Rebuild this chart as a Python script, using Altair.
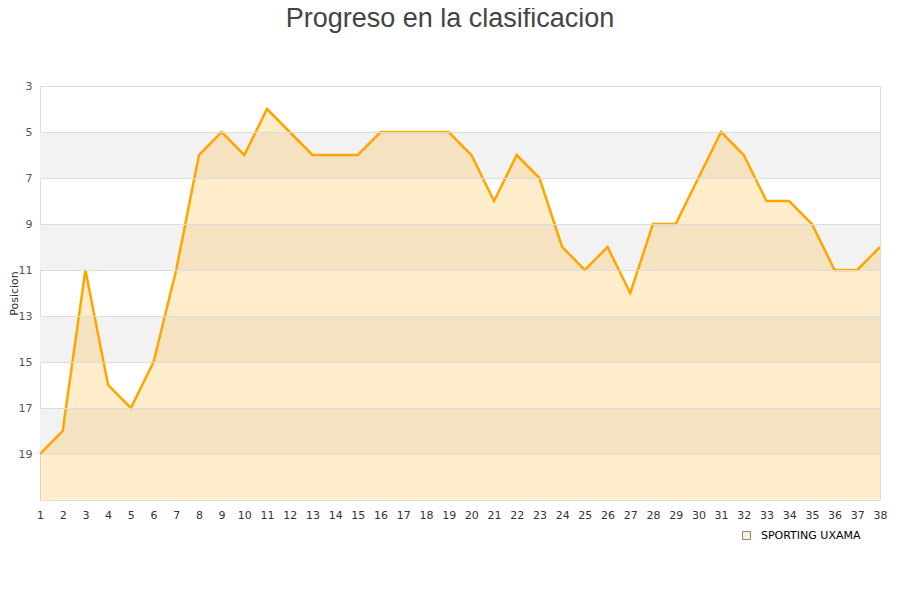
import altair as alt
import pandas as pd

jornadas = list(range(1, 39))
posiciones = [19, 18, 11, 16, 17, 15, 11, 6, 5, 6, 4, 5, 6, 6, 6, 5, 5, 5, 5, 6,
              8, 6, 7, 10, 11, 10, 12, 9, 9, 7, 5, 6, 8, 8, 9, 11, 11, 10]
team = "SPORTING UXAMA"
band_start = [5, 9, 13, 17]
band_end = [7, 11, 15, 19]
y_ticks = [3, 5, 7, 9, 11, 13, 15, 17, 19]

df = pd.DataFrame({"jornada": jornadas, "pos": posiciones, "equipo": team})
df["base"] = 21
bands = pd.DataFrame({"y1": band_start, "y2": band_end})

yscale = alt.Scale(domain=[3, 21], reverse=True, nice=False, zero=False)
xscale = alt.Scale(domain=[1, 38], nice=False, zero=False)

x_axis = alt.Axis(values=jornadas, title=None, grid=False, domain=False, ticks=False,
                  labelColor="#333333", labelFontSize=11, labelPadding=9,
                  labelFont="DejaVu Sans", labelFlush=False, labelOverlap=False,
                  labelBound=False)
y_axis = alt.Axis(values=y_ticks, title="Posicion", grid=True, gridColor="#dddddd",
                  domain=False, ticks=False, labelColor="#555555", labelFontSize=11,
                  labelPadding=8, titleFontSize=11, titleColor="#333333",
                  titleFontWeight="normal", titleX=-26, titleY=207,
                  titleBaseline="middle", titleAlign="center", titleAngle=270,
                  zindex=1, labelFont="DejaVu Sans", titleFont="DejaVu Sans")

band_layer = alt.Chart(bands).mark_rect(color="#f2f2f2").encode(
    y=alt.Y("y1:Q", scale=yscale, axis=y_axis),
    y2="y2:Q",
    x=alt.value(0),
    x2=alt.value(840),
)

area_layer = alt.Chart(df).mark_area(color="#ffa500", opacity=0.2, interpolate="linear").encode(
    x=alt.X("jornada:Q", scale=xscale, axis=x_axis),
    y=alt.Y("pos:Q", scale=yscale, axis=y_axis),
    y2="base:Q",
)

line_layer = alt.Chart(df).mark_line(color="#ffa500", strokeWidth=2.5).encode(
    x=alt.X("jornada:Q", scale=xscale, axis=x_axis),
    y=alt.Y("pos:Q", scale=yscale, axis=y_axis),
)

legend_layer = alt.Chart(df).mark_square(size=0, fill="#fde9c6", filled=True,
                                         strokeWidth=1).encode(
    x=alt.X("jornada:Q", scale=xscale, axis=x_axis),
    y=alt.Y("pos:Q", scale=yscale, axis=y_axis),
    stroke=alt.Stroke("equipo:N", scale=alt.Scale(range=["#555555"]),
                      legend=alt.Legend(title=None, orient="none", legendX=701, legendY=444,
                                        symbolType="square", symbolSize=64,
                                        symbolFillColor="#fde9c6", symbolStrokeWidth=1,
                                        labelFontSize=11, labelColor="#000000",
                                        labelFont="DejaVu Sans", labelOffset=9)),
)

chart = alt.layer(band_layer, area_layer, line_layer, legend_layer).properties(
    width=840,
    height=414,
    title=alt.Title("Progreso en la clasificacion", fontSize=27, font="Liberation Sans",
                    fontWeight="normal", color="#444444", anchor="middle", dx=-10, offset=47),
    autosize=alt.AutoSizeParams(type="none"),
    padding={"left": 32, "top": 78, "right": 12, "bottom": 80},
).configure_view(stroke="#dddddd", strokeWidth=1).configure(background="white")

chart.save("out.html", embed_options={"renderer": "svg", "actions": False})
